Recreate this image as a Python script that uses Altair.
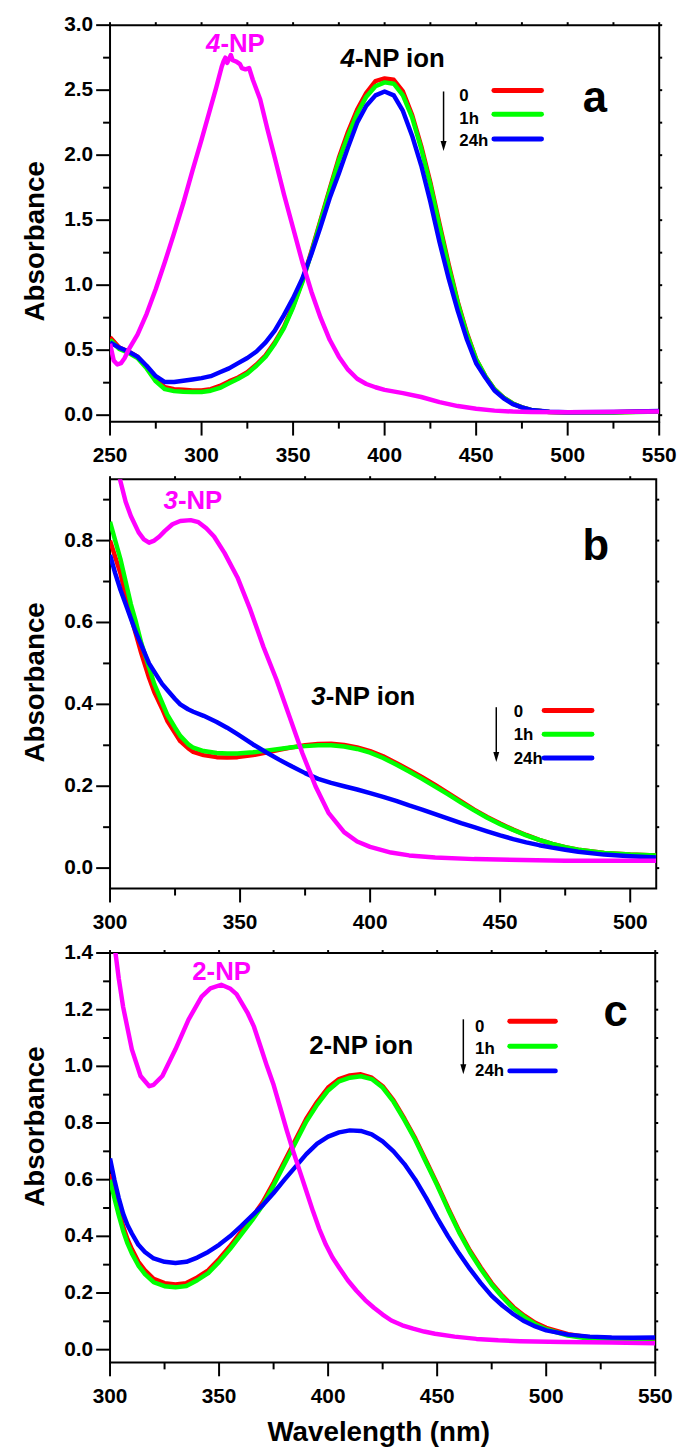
import altair as alt
import pandas as pd

FONT = "Liberation Sans"
RED, GREEN, BLUE, MAG = "#FF0000", "#00FF00", "#0000FF", "#FF00FF"

# ---------------- Panel a (4-NP) ----------------
a_wl = [250, 255, 260, 265, 270, 275, 280, 285, 290, 295, 300, 305, 310, 315, 320, 325, 330, 335, 340, 345,
        350, 355, 360, 365, 370, 375, 380, 385, 390, 395, 400, 405, 410, 415, 420, 425, 430, 435, 440, 445,
        450, 455, 460, 465, 470, 475, 480, 490, 500, 525, 550]
a_0h = [0.60, 0.52, 0.49, 0.45, 0.37, 0.27, 0.215, 0.20, 0.195, 0.19, 0.19, 0.20, 0.225, 0.26, 0.29, 0.33,
        0.39, 0.46, 0.56, 0.68, 0.84, 1.03, 1.26, 1.50, 1.74, 1.98, 2.18, 2.35, 2.48, 2.57, 2.59, 2.58, 2.49,
        2.31, 2.07, 1.79, 1.47, 1.16, 0.87, 0.63, 0.43, 0.30, 0.20, 0.135, 0.09, 0.06, 0.04, 0.025, 0.02,
        0.022, 0.03]
a_1h = [0.58, 0.51, 0.48, 0.44, 0.36, 0.26, 0.20, 0.185, 0.18, 0.178, 0.178, 0.188, 0.21, 0.245, 0.28, 0.32,
        0.38, 0.45, 0.55, 0.67, 0.83, 1.02, 1.25, 1.49, 1.73, 1.96, 2.15, 2.32, 2.45, 2.53, 2.56, 2.55, 2.46,
        2.29, 2.05, 1.77, 1.45, 1.14, 0.86, 0.62, 0.43, 0.30, 0.20, 0.135, 0.09, 0.06, 0.04, 0.024, 0.02,
        0.021, 0.028]
a_24h = [0.56, 0.52, 0.49, 0.45, 0.38, 0.30, 0.255, 0.255, 0.265, 0.275, 0.285, 0.30, 0.33, 0.36, 0.40, 0.44,
         0.49, 0.56, 0.65, 0.77, 0.90, 1.05, 1.24, 1.45, 1.67, 1.86, 2.06, 2.25, 2.38, 2.46, 2.49, 2.46, 2.34,
         2.15, 1.92, 1.64, 1.33, 1.05, 0.80, 0.58, 0.40, 0.29, 0.19, 0.13, 0.085, 0.06, 0.04, 0.026, 0.022,
         0.025, 0.032]
a_np_wl = [250, 252, 254, 256, 258, 260, 265, 270, 275, 280, 285, 290, 295, 300, 305, 308, 311, 312, 313, 314,
           315, 316, 317, 319, 321, 322, 324, 326, 328, 332, 336, 340, 345, 350, 355, 360, 365, 370, 375, 380,
           385, 390, 395, 400, 410, 420, 430, 440, 450, 460, 470, 480, 500, 550]
a_np = [0.55, 0.42, 0.39, 0.40, 0.44, 0.50, 0.62, 0.78, 0.97, 1.18, 1.40, 1.63, 1.88, 2.12, 2.37, 2.52, 2.68,
        2.72, 2.75, 2.71, 2.74, 2.77, 2.73, 2.72, 2.70, 2.67, 2.66, 2.67, 2.58, 2.43, 2.20, 1.98, 1.70, 1.44,
        1.18, 0.95, 0.75, 0.58, 0.45, 0.35, 0.28, 0.24, 0.215, 0.195, 0.17, 0.14, 0.10, 0.07, 0.05, 0.035,
        0.028, 0.025, 0.022, 0.028]

# ---------------- Panel b (3-NP) ----------------
b_wl = [300, 302, 304, 306, 308, 310, 312, 315, 317, 320, 322, 325, 327, 330, 332, 336, 341, 345, 349, 355,
        360, 365, 370, 375, 380, 385, 390, 395, 400, 405, 410, 415, 420, 425, 430, 435, 440, 445, 450, 455,
        460, 465, 470, 475, 480, 490, 500, 510]
b_0h = [0.80, 0.76, 0.72, 0.665, 0.615, 0.57, 0.525, 0.465, 0.43, 0.39, 0.36, 0.33, 0.31, 0.293, 0.284,
        0.276, 0.271, 0.27, 0.271, 0.276, 0.282, 0.289, 0.295, 0.30, 0.303, 0.304, 0.301, 0.295, 0.286, 0.273,
        0.257, 0.24, 0.222, 0.203, 0.183, 0.163, 0.143, 0.125, 0.109, 0.094, 0.081, 0.069, 0.059, 0.051,
        0.045, 0.037, 0.033, 0.031]
b_1h = [0.846, 0.80, 0.755, 0.70, 0.645, 0.60, 0.55, 0.49, 0.45, 0.405, 0.375, 0.343, 0.323, 0.303, 0.294,
        0.286, 0.281, 0.28, 0.28, 0.283, 0.287, 0.291, 0.295, 0.298, 0.30, 0.30, 0.297, 0.291, 0.282, 0.269,
        0.253, 0.236, 0.218, 0.199, 0.18, 0.16, 0.141, 0.123, 0.107, 0.093, 0.08, 0.069, 0.059, 0.051,
        0.045, 0.037, 0.033, 0.031]
b_24h = [0.765, 0.72, 0.68, 0.645, 0.61, 0.575, 0.545, 0.50, 0.48, 0.45, 0.435, 0.413, 0.40, 0.388, 0.382,
         0.372, 0.357, 0.343, 0.327, 0.302, 0.283, 0.265, 0.248, 0.232, 0.218, 0.208, 0.20, 0.192, 0.183,
         0.174, 0.164, 0.153, 0.143, 0.132, 0.121, 0.11, 0.10, 0.09, 0.08, 0.071, 0.063, 0.056, 0.05, 0.045,
         0.04, 0.033, 0.029, 0.026]
b_np_wl = [300, 302, 304, 306, 308, 311, 313, 315, 317, 319, 321, 324, 327, 331, 334, 337, 340, 344, 349, 354,
           359, 364, 369, 374, 379, 384, 390, 395, 400, 408, 415, 425, 440, 475, 510]
b_np = [1.10, 1.01, 0.945, 0.895, 0.86, 0.82, 0.803, 0.795, 0.80, 0.81, 0.823, 0.84, 0.848, 0.85, 0.845,
        0.83, 0.81, 0.77, 0.71, 0.63, 0.54, 0.46, 0.37, 0.28, 0.20, 0.135, 0.088, 0.065, 0.052, 0.038, 0.031,
        0.026, 0.022, 0.018, 0.018]

# ---------------- Panel c (2-NP) ----------------
c_wl = [300, 302, 304, 306, 308, 310, 313, 316, 320, 325, 330, 335, 340, 345, 350, 355, 360, 365, 370, 375,
        380, 385, 390, 395, 400, 405, 410, 415, 420, 425, 430, 435, 440, 445, 450, 455, 460, 465, 470, 475,
        480, 485, 490, 495, 500, 510, 520, 530, 540, 550]
c_0h = [0.62, 0.55, 0.49, 0.435, 0.39, 0.355, 0.31, 0.28, 0.25, 0.235, 0.23, 0.235, 0.255, 0.28, 0.32, 0.365,
        0.415, 0.465, 0.52, 0.59, 0.665, 0.74, 0.815, 0.875, 0.925, 0.955, 0.968, 0.972, 0.96, 0.93, 0.88,
        0.815, 0.745, 0.665, 0.585, 0.50, 0.42, 0.35, 0.29, 0.235, 0.19, 0.15, 0.12, 0.095, 0.077, 0.055,
        0.043, 0.036, 0.032, 0.03]
c_1h = [0.60, 0.535, 0.475, 0.42, 0.375, 0.34, 0.297, 0.267, 0.238, 0.224, 0.22, 0.225, 0.245, 0.27, 0.31,
        0.355, 0.405, 0.455, 0.51, 0.58, 0.655, 0.73, 0.805, 0.865, 0.915, 0.947, 0.96, 0.965, 0.955, 0.925,
        0.875, 0.81, 0.74, 0.66, 0.58, 0.495, 0.415, 0.345, 0.285, 0.23, 0.185, 0.145, 0.115, 0.09, 0.072,
        0.05, 0.038, 0.031, 0.027, 0.025]
c_24h = [0.675, 0.60, 0.535, 0.48, 0.44, 0.41, 0.37, 0.345, 0.322, 0.31, 0.306, 0.31, 0.325, 0.345, 0.37,
         0.40, 0.435, 0.472, 0.51, 0.553, 0.60, 0.645, 0.69, 0.727, 0.752, 0.767, 0.774, 0.772, 0.76, 0.735,
         0.70, 0.655, 0.60, 0.535, 0.465, 0.40, 0.34, 0.285, 0.235, 0.19, 0.155, 0.125, 0.10, 0.082, 0.068,
         0.053, 0.046, 0.043, 0.042, 0.043]
c_np_wl = [300, 302, 304, 306, 310, 314, 318, 320, 324, 330, 336, 342, 346, 351, 355, 358, 363, 366, 369, 372,
           375, 378, 381, 384, 387, 390, 393, 396, 399, 402, 405, 409, 413, 417, 421, 425, 429, 434, 439, 444,
           449, 458, 468, 478, 488, 508, 530, 550]
c_np = [1.55, 1.43, 1.31, 1.21, 1.06, 0.966, 0.93, 0.935, 0.966, 1.06, 1.165, 1.246, 1.275, 1.288, 1.275,
        1.255, 1.19, 1.14, 1.07, 1.00, 0.935, 0.855, 0.775, 0.70, 0.63, 0.56, 0.49, 0.425, 0.37, 0.325, 0.29,
        0.245, 0.208, 0.175, 0.148, 0.124, 0.103, 0.086, 0.074, 0.064, 0.056, 0.046, 0.038, 0.033, 0.030,
        0.027, 0.025, 0.023]

legend_labels = ["0", "1h", "24h"]
legend_colors = [RED, GREEN, BLUE]
y_title = "Absorbance"
x_title = "Wavelength (nm)"

PANELS = [
    dict(wl=a_wl, s0=a_0h, s1=a_1h, s24=a_24h, npwl=a_np_wl, np=a_np,
         xdom=[250, 550], ydom=[-0.05, 3.0], w=554, h=400,
         xt=[250, 300, 350, 400, 450, 500, 550], xm=[275, 325, 375, 425, 475, 525],
         yt=[0, 0.5, 1.0, 1.5, 2.0, 2.5, 3.0], ym=[0.25, 0.75, 1.25, 1.75, 2.25, 2.75],
         np_digit="4", np_rest="-NP", np_pos=(310.3, 2.795), np_italic=True,
         ion_digit="4", ion_rest="-NP ion", ion_pos=(383.8, 2.68),
         letter="a", letter_pos=(514.9, 2.33),
         leg_lab_x=440.8, leg_lab_y=[2.414, 2.24, 2.07],
         leg_x=[459.7, 485.7], leg_y=[2.498, 2.315, 2.125],
         arrow_x=432.2, arrow_y=[2.49, 2.07], xtitle=False, ytitle_y=218),
    dict(wl=b_wl, s0=b_0h, s1=b_1h, s24=b_24h, npwl=b_np_wl, np=b_np,
         xdom=[300, 510], ydom=[-0.05, 0.95], w=551, h=413,
         xt=[300, 350, 400, 450, 500], xm=[325, 375, 425, 475],
         yt=[0, 0.2, 0.4, 0.6, 0.8], ym=[0.1, 0.3, 0.5, 0.7, 0.9],
         np_digit="3", np_rest="-NP", np_pos=(326.1, 0.878), np_italic=True,
         ion_digit="3", ion_rest="-NP ion", ion_pos=(382.9, 0.398),
         letter="b", letter_pos=(486.8, 0.752),
         leg_lab_x=455.2, leg_lab_y=[0.368, 0.313, 0.255],
         leg_x=[466.9, 485.3], leg_y=[0.385, 0.327, 0.269],
         arrow_x=448.5, arrow_y=[0.393, 0.2715], xtitle=False, ytitle_y=205),
    dict(wl=c_wl, s0=c_0h, s1=c_1h, s24=c_24h, npwl=c_np_wl, np=c_np,
         xdom=[300, 550], ydom=[-0.045, 1.4], w=550, h=413,
         xt=[300, 350, 400, 450, 500, 550], xm=[325, 375, 425, 475, 525],
         yt=[0, 0.2, 0.4, 0.6, 0.8, 1.0, 1.2, 1.4], ym=[0.1, 0.3, 0.5, 0.7, 0.9, 1.1, 1.3],
         np_digit="2", np_rest="-NP", np_pos=(337.7, 1.306), np_italic=False,
         ion_digit="2", ion_rest="-NP ion", ion_pos=(391.3, 1.043),
         letter="c", letter_pos=(531.8, 1.141),
         leg_lab_x=467.4, leg_lab_y=[1.12, 1.043, 0.966],
         leg_x=[483.3, 504.2], leg_y=[1.159, 1.071, 0.984],
         arrow_x=462.0, arrow_y=[1.166, 0.99], xtitle=True, ytitle_y=175),
]

MAJOR, MINOR, MIRROR = 14, 7, 3
LABEL_SIZE = 21


def make_panel(p):
    xs = alt.Scale(domain=p["xdom"], nice=False, zero=False)
    ys = alt.Scale(domain=p["ydom"], nice=False, zero=False)
    w, h = p["w"], p["h"]
    all_x = sorted(p["xt"] + p["xm"])
    all_y = sorted(p["yt"] + p["ym"])

    def X(field):
        return alt.X(field, scale=xs, axis=None)

    def Y(field):
        return alt.Y(field, scale=ys, axis=None)

    def line(wl, vals, color):
        df = pd.DataFrame({"wl": wl, "A": vals})
        return alt.Chart(df).mark_line(color=color, strokeWidth=4.5, clip=True, strokeJoin="round").encode(
            x=X("wl:Q"), y=Y("A:Q"))

    layers = [
        line(p["wl"], p["s0"], RED),
        line(p["wl"], p["s1"], GREEN),
        line(p["wl"], p["s24"], BLUE),
        line(p["npwl"], p["np"], MAG),
    ]

    # axis ticks, drawn at the tick values through the scales
    def xticks(vals, y0, y1):
        return alt.Chart(pd.DataFrame({"v": vals})).mark_rule(color="black", strokeWidth=2).encode(
            x=X("v:Q"), y=alt.value(y0), y2=alt.value(y1))

    def yticks(vals, x0, x1):
        return alt.Chart(pd.DataFrame({"v": vals})).mark_rule(color="black", strokeWidth=2).encode(
            y=Y("v:Q"), x=alt.value(x0), x2=alt.value(x1))

    layers += [
        xticks(p["xt"], h, h + MAJOR),
        xticks(p["xm"], h, h + MINOR),
        xticks(all_x, 0, -MIRROR),
        yticks(p["yt"], 0, -MAJOR),
        yticks(p["ym"], 0, -MINOR),
        yticks(all_y, w, w + MIRROR),
    ]

    # tick labels
    layers.append(alt.Chart(pd.DataFrame({"v": p["xt"]})).mark_text(
        font=FONT, fontSize=LABEL_SIZE, fontWeight="bold", color="black", align="center", baseline="top").encode(
        x=X("v:Q"), y=alt.value(h + 24), text=alt.Text("v:Q", format="d")))
    layers.append(alt.Chart(pd.DataFrame({"v": p["yt"]})).mark_text(
        font=FONT, fontSize=LABEL_SIZE, fontWeight="bold", color="black", align="right", baseline="middle").encode(
        y=Y("v:Q"), x=alt.value(-17), text=alt.Text("v:Q", format=".1f")))

    # axis titles
    layers.append(alt.Chart(pd.DataFrame({"t": [y_title]})).mark_text(
        font=FONT, fontSize=28, fontWeight="bold", color="black", angle=270, align="center",
        baseline="alphabetic").encode(x=alt.value(-67), y=alt.value(p["ytitle_y"]), text="t:N"))
    if p["xtitle"]:
        layers.append(alt.Chart(pd.DataFrame({"t": [x_title]})).mark_text(
            font=FONT, fontSize=28, fontWeight="bold", color="black", align="center",
            baseline="alphabetic").encode(x=alt.value(w / 2 - 4), y=alt.value(h + 79), text="t:N"))

    def text(df, **kw):
        return alt.Chart(df).mark_text(font=FONT, fontWeight="bold", baseline="alphabetic", **kw).encode(
            x=X("x:Q"), y=Y("y:Q"), text="t:N")

    if p["np_italic"]:
        layers.append(text(pd.DataFrame({"x": [p["np_pos"][0]], "y": [p["np_pos"][1]], "t": [p["np_digit"]]}),
                           align="right", fontStyle="italic", fontSize=26, color=MAG))
        layers.append(text(pd.DataFrame({"x": [p["np_pos"][0]], "y": [p["np_pos"][1]], "t": [p["np_rest"]]}),
                           align="left", fontSize=26, color=MAG))
        layers.append(text(pd.DataFrame({"x": [p["ion_pos"][0]], "y": [p["ion_pos"][1]], "t": [p["ion_digit"]]}),
                           align="right", fontStyle="italic", fontSize=26, color="black"))
        layers.append(text(pd.DataFrame({"x": [p["ion_pos"][0]], "y": [p["ion_pos"][1]], "t": [p["ion_rest"]]}),
                           align="left", fontSize=26, color="black"))
    else:
        layers.append(text(pd.DataFrame({"x": [p["np_pos"][0]], "y": [p["np_pos"][1]],
                                         "t": [p["np_digit"] + p["np_rest"]]}),
                           align="left", fontSize=26, color=MAG))
        layers.append(text(pd.DataFrame({"x": [p["ion_pos"][0]], "y": [p["ion_pos"][1]],
                                         "t": [p["ion_digit"] + p["ion_rest"]]}),
                           align="left", fontSize=26, color="black"))

    layers.append(text(pd.DataFrame({"x": [p["letter_pos"][0]], "y": [p["letter_pos"][1]], "t": [p["letter"]]}),
                       align="center", fontSize=44, color="black"))

    # hand-made legend with the "time" arrow
    layers.append(text(pd.DataFrame({"x": [p["leg_lab_x"]] * 3, "y": p["leg_lab_y"], "t": legend_labels}),
                       align="left", fontSize=17, color="black"))
    leg_df = pd.DataFrame({"x": [p["leg_x"][0]] * 3, "x2": [p["leg_x"][1]] * 3, "y": p["leg_y"],
                           "c": legend_colors})
    layers.append(alt.Chart(leg_df).mark_rule(strokeWidth=5, strokeCap="round").encode(
        x=X("x:Q"), x2="x2:Q", y=Y("y:Q"), color=alt.Color("c:N", scale=None)))
    arr_df = pd.DataFrame({"x": [p["arrow_x"]], "y": [p["arrow_y"][0]], "y2": [p["arrow_y"][1]]})
    layers.append(alt.Chart(arr_df).mark_rule(strokeWidth=1.5, color="black").encode(
        x=X("x:Q"), y=Y("y:Q"), y2="y2:Q"))
    head_df = pd.DataFrame({"x": [p["arrow_x"]], "y": [p["arrow_y"][1]]})
    layers.append(alt.Chart(head_df).mark_point(shape="M-0.6,-1L0.6,-1L0,1Z", size=100, filled=True,
                                                color="black", opacity=1).encode(x=X("x:Q"), y=Y("y:Q")))

    return alt.layer(*layers).properties(width=w, height=h)


chart = alt.vconcat(*[make_panel(p) for p in PANELS], spacing=7).properties(
    padding={"left": 21, "top": 7, "right": 5, "bottom": 0}
).configure_view(
    stroke="black", strokeWidth=2
)

chart.save("out.html", embed_options={"renderer": "svg", "actions": False})
